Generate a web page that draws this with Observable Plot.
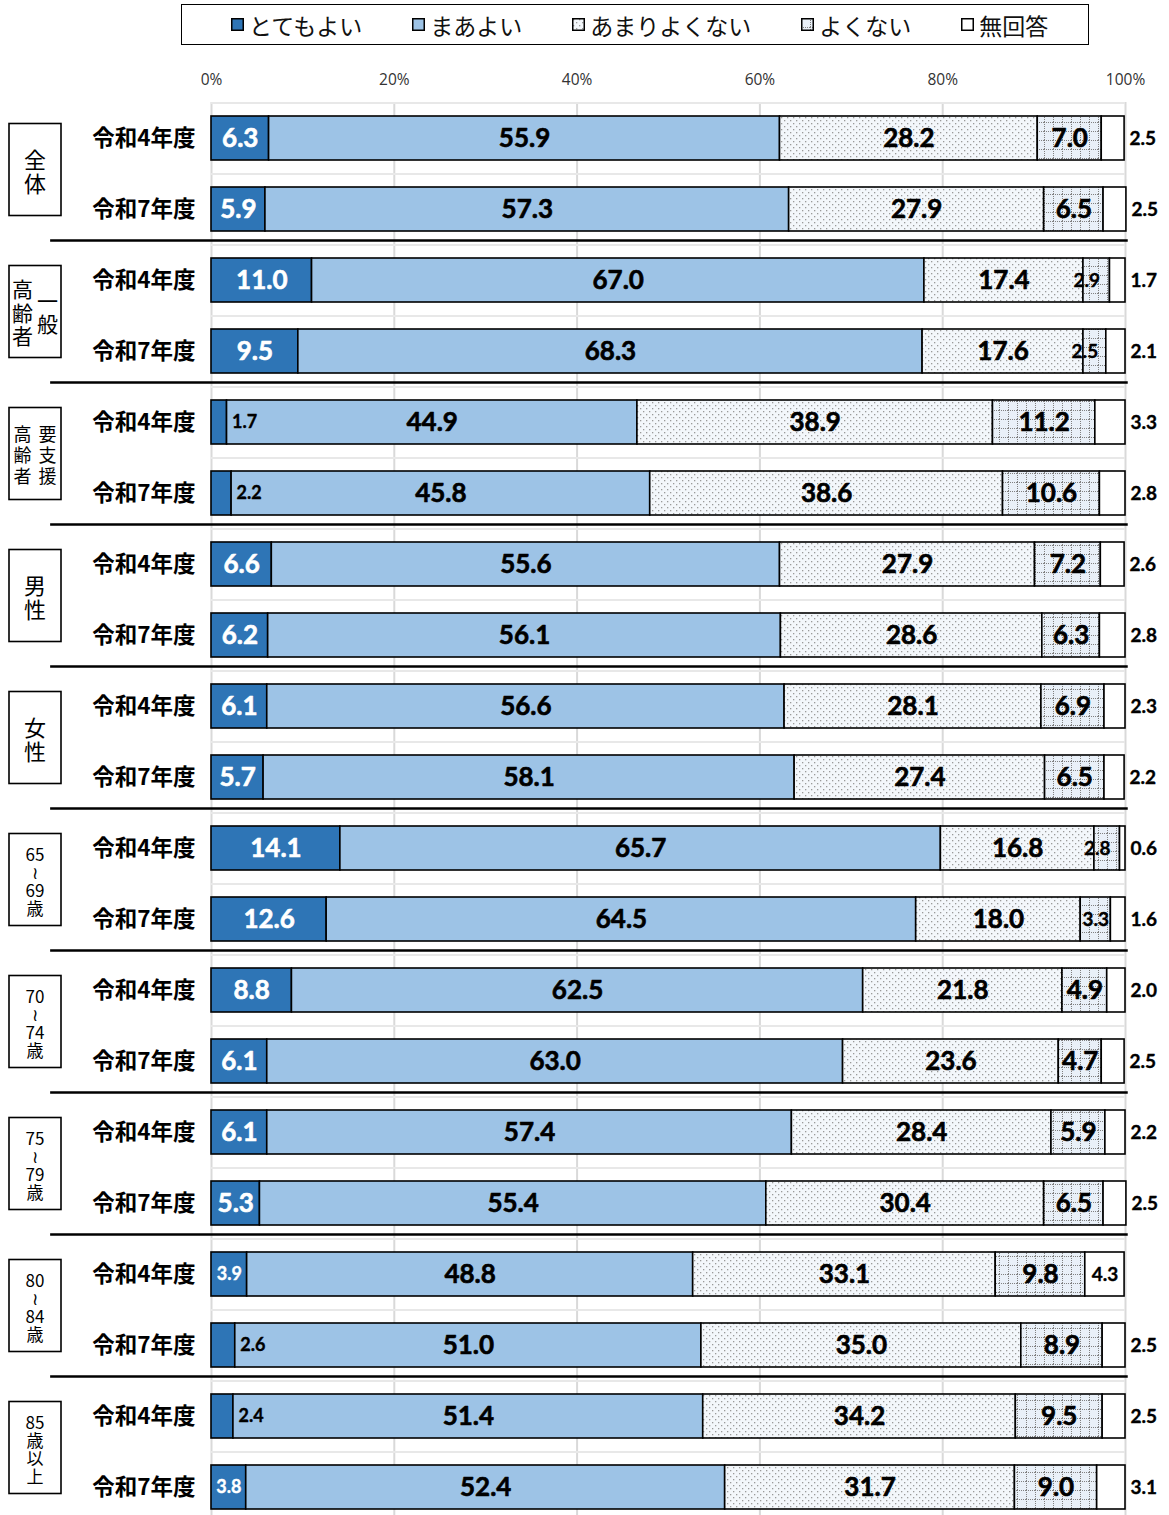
<!DOCTYPE html>
<html><head><meta charset="utf-8">
<script src="https://cdn.jsdelivr.net/npm/d3@7"></script>
<script src="https://cdn.jsdelivr.net/npm/@observablehq/plot@0.6"></script>
<style>
body{margin:0;background:#fff;font-family:"Noto Sans CJK JP",sans-serif;}
#legend{position:relative;width:1169px;height:50px;}
#legend .box{position:absolute;left:181px;top:4px;width:908px;height:41px;border:1.6px solid #000;display:flex;align-items:center;gap:50px;padding-left:49px;box-sizing:border-box;}
.item{font-size:23px;line-height:30px;display:flex;align-items:center;color:#111;}
.item svg{margin-right:5px;display:block}
#chart svg{display:block}
</style></head><body>
<div id="legend"><div class="box"></div></div>
<div id="chart"></div>
<script>
const groups = ["全体","一般高齢者","要支援高齢者","男性","女性","65～69歳","70～74歳","75～79歳","80～84歳","85歳以上"];
const groupLabelColumns = [
  [["全","体"]],
  [["高","齢","者"],["一","般"]],
  [["高","齢","者"],["要","支","援"]],
  [["男","性"]],
  [["女","性"]],
  [["65","≀","69","歳"]],
  [["70","≀","74","歳"]],
  [["75","≀","79","歳"]],
  [["80","≀","84","歳"]],
  [["85","歳","以","上"]]
];
const years = ["令和4年度","令和7年度"];
const categories = ["とてもよい","まあよい","あまりよくない","よくない","無回答"];
const veryGood    = [6.3,5.9,11.0,9.5,1.7,2.2,6.6,6.2,6.1,5.7,14.1,12.6,8.8,6.1,6.1,5.3,3.9,2.6,2.4,3.8];
const fairlyGood  = [55.9,57.3,67.0,68.3,44.9,45.8,55.6,56.1,56.6,58.1,65.7,64.5,62.5,63.0,57.4,55.4,48.8,51.0,51.4,52.4];
const notVeryGood = [28.2,27.9,17.4,17.6,38.9,38.6,27.9,28.6,28.1,27.4,16.8,18.0,21.8,23.6,28.4,30.4,33.1,35.0,34.2,31.7];
const notGood     = [7.0,6.5,2.9,2.5,11.2,10.6,7.2,6.3,6.9,6.5,2.8,3.3,4.9,4.7,5.9,6.5,9.8,8.9,9.5,9.0];
const noAnswer    = [2.5,2.5,1.7,2.1,3.3,2.8,2.6,2.8,2.3,2.2,0.6,1.6,2.0,2.5,2.2,2.5,4.3,2.5,2.5,3.1];
const tickValues = [0,20,40,60,80,100];

const fills = ["#2e75b6","#9dc3e6","url(#dots)","url(#grid)","#ffffff"];
const series = [veryGood, fairlyGood, notVeryGood, notGood, noAnswer];

const rows = [];
groups.forEach((g, gi) => years.forEach((yr, yi) => rows.push({key: g + "|" + yr, group: g, gi, yi})));
const rowKeys = rows.map(r => r.key);

const segs = [];
rows.forEach((r, ri) => {
  let cum = 0;
  categories.forEach((c, ci) => {
    const v = series[ci][ri];
    segs.push({row: r.key, cat: c, ci, value: v, start: cum, end: cum + v, mid: cum + v / 2, label: v.toFixed(1)});
    cum += v;
  });
});

// Layout
const W = 1169, H = 1465;
const yTop = 52.5, yBottom = 1472.5;
const step = (yBottom - yTop) / rowKeys.length;
const padInner = 0.38;
const bw = step * (1 - padInner);

const numFont = "Lato, 'Open Sans', sans-serif";
const big = 26, small = 19;
const lbl = (fill, size, extra = {}) => ({y: "row", text: "label", fill, stroke: fill, strokeWidth: size >= 24 ? 0.6 : 0.35,
  fontSize: size, fontFamily: numFont, fontWeight: "bold", ...extra});

const plot = Plot.plot({
  width: W, height: H,
  marginLeft: 211, marginRight: 44, marginTop: 52, marginBottom: 0,
  style: {fontFamily: "'Noto Sans CJK JP', sans-serif", fontSize: "14px", background: "#fff", overflow: "visible", color: "#000"},
  x: {domain: [0, 100], axis: null},
  y: {type: "band", domain: rowKeys, range: [yTop, yBottom], paddingInner: padInner, paddingOuter: padInner / 2, axis: null},
  color: {type: "ordinal", domain: categories, range: fills},
  marks: [
    Plot.gridX(tickValues, {stroke: "#d9d9d9", strokeOpacity: 1, strokeWidth: 2}),
    Plot.ruleY(rowKeys, {x1: 0, x2: 100, dy: -step / 2, stroke: "#e8e8e8", strokeWidth: 2}),
    Plot.axisX({anchor: "top", ticks: tickValues, tickFormat: d => d + "%", tickSize: 0, tickPadding: 18, fontSize: 15.5, fontFamily: "'Open Sans', sans-serif", fill: "#333", label: null}),
    Plot.axisY({anchor: "left", tickSize: 0, tickPadding: 16, tickFormat: d => d.split("|")[1], fontSize: 22.5, fontWeight: "bold", fontFamily: "'Noto Sans CJK JP', sans-serif", fill: "#000", label: null}),
    Plot.barX(segs, Plot.stackX({x: "value", y: "row", fill: "cat", stroke: "#000", strokeWidth: 1.6})),
    // group separators
    Plot.ruleY(rows.filter(r => r.yi === 1 && r.gi < groups.length - 1).map(r => r.key),
      {x1: -17.6, x2: 100.3, dy: bw / 2 + 9, stroke: "#000", strokeWidth: 2.5}),
    // とてもよい labels
    Plot.text(segs.filter(s => s.ci === 0 && s.value >= 5), {x: "mid", ...lbl("#fff", big)}),
    Plot.text(segs.filter(s => s.ci === 0 && s.value >= 3.5 && s.value < 5), {x: "mid", ...lbl("#fff", 18)}),
    Plot.text(segs.filter(s => s.ci === 0 && s.value < 3.5), {x: "end", ...lbl("#000", 18, {textAnchor: "start", dx: 5})}),
    // まあよい / あまりよくない
    Plot.text(segs.filter(s => s.ci === 1 || s.ci === 2), {x: "mid", ...lbl("#000", big)}),
    // よくない
    Plot.text(segs.filter(s => s.ci === 3 && s.value >= 4), {x: "mid", ...lbl("#000", big)}),
    Plot.text(segs.filter(s => s.ci === 3 && s.value < 3), {x: "mid", ...lbl("#000", small, {dx: -10})}),
    Plot.text(segs.filter(s => s.ci === 3 && s.value >= 3 && s.value < 4), {x: "mid", ...lbl("#000", small)}),
    // 無回答
    Plot.text(segs.filter(s => s.ci === 4 && s.value >= 4), {x: "mid", ...lbl("#000", small)}),
    Plot.text(segs.filter(s => s.ci === 4 && s.value < 4), {x: "end", ...lbl("#000", small, {textAnchor: "start", dx: 5})})
  ]
});

// Patterns
const defs = d3.select(plot).insert("defs", ":first-child");
const p1 = defs.append("pattern").attr("id", "dots").attr("width", 6).attr("height", 6).attr("patternUnits", "userSpaceOnUse");
p1.append("rect").attr("width", 6).attr("height", 6).attr("fill", "#f3f7fb");
p1.append("rect").attr("x", 1).attr("y", 1).attr("width", 1.3).attr("height", 1.3).attr("fill", "#9a9a9a");
p1.append("rect").attr("x", 4).attr("y", 4).attr("width", 1.3).attr("height", 1.3).attr("fill", "#9a9a9a");
const p2 = defs.append("pattern").attr("id", "grid").attr("width", 9).attr("height", 9).attr("patternUnits", "userSpaceOnUse");
p2.append("rect").attr("width", 9).attr("height", 9).attr("fill", "#e9f0f8");
for (let i = 0; i < 9; i += 2) {
  p2.append("rect").attr("x", 0).attr("y", i).attr("width", 1).attr("height", 1).attr("fill", "#808080");
  p2.append("rect").attr("x", i).attr("y", 0).attr("width", 1).attr("height", 1).attr("fill", "#808080");
}

// Group boxes and labels
const ys = plot.scale("y");
const band = ys.bandwidth;
const gg = d3.select(plot).append("g").attr("font-family", "'Noto Sans CJK JP', sans-serif").attr("fill", "#000");
const sizeByCount = {2: 22, 4: 17, 5: 21, 6: 18};
const lhByCount = {2: 24, 4: 18, 5: 23.5, 6: 21};
groups.forEach((gname, gi) => {
  const c0 = ys.apply(gname + "|" + years[0]) + band / 2;
  const c1 = ys.apply(gname + "|" + years[1]) + band / 2;
  const cy = (c0 + c1) / 2 - 4;
  gg.append("rect").attr("x", 9).attr("y", cy - 46).attr("width", 52).attr("height", 92)
    .attr("fill", "none").attr("stroke", "#000").attr("stroke-width", 1.6);
  const cols = groupLabelColumns[gi];
  const total = cols.reduce((a, c) => a + c.length, 0);
  const size = sizeByCount[total], lh = lhByCount[total];
  cols.forEach((col, k) => {
    const cx = 35 + (cols.length === 2 ? (k === 0 ? -12.5 : 12.5) : 0);
    const t = gg.append("text").attr("text-anchor", "middle").attr("dominant-baseline", "central").attr("font-size", size);
    col.forEach((ch, j) => {
      t.append("tspan").attr("x", cx).attr("y", cy + (j - (col.length - 1) / 2) * lh).text(ch);
    });
  });
});

document.getElementById("chart").appendChild(plot);

// Legend
const box = d3.select("#legend .box");
categories.forEach((c, i) => {
  const it = box.append("div").attr("class", "item");
  const sw = it.append("svg").attr("width", 13).attr("height", 13);
  sw.append("rect").attr("x", 0.75).attr("y", 0.75).attr("width", 11.5).attr("height", 11.5)
    .attr("fill", fills[i]).attr("stroke", "#000").attr("stroke-width", 1.5);
  it.append("span").text(c);
});
</script>
</body></html>
